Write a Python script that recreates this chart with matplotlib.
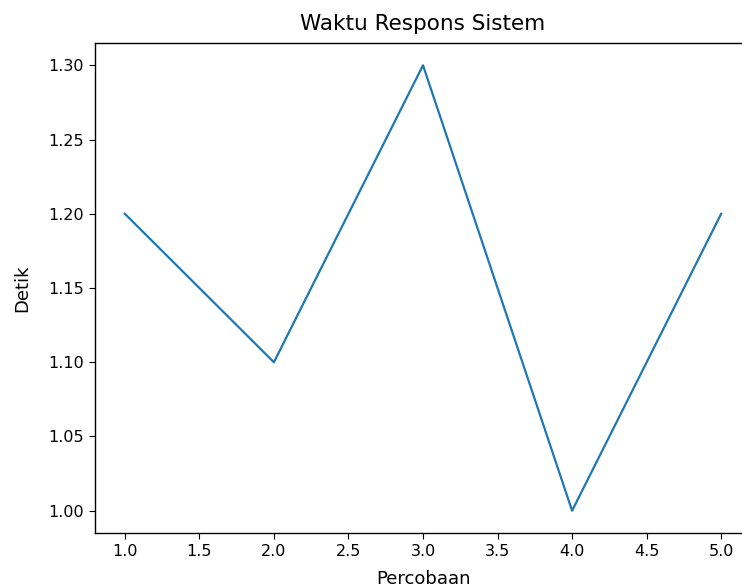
import matplotlib
matplotlib.use("Agg")
import matplotlib.pyplot as plt

trials = [1, 2, 3, 4, 5]
seconds = [1.2, 1.1, 1.3, 1.0, 1.2]

fig = plt.figure(figsize=(7.42, 5.87), dpi=100)
ax = fig.add_axes([95/742, 1-533/587, (751-95)/742, (533-43)/587])
ax.plot(trials, seconds, color="#1f77b4", linewidth=1.6)
ax.set_title("Waktu Respons Sistem", fontsize=15.5, pad=9)
ax.set_xlabel("Percobaan", fontsize=13, labelpad=8)
ax.set_ylabel("Detik", fontsize=13, labelpad=12)
ax.tick_params(labelsize=11.5, length=4.5)
for s in ax.spines.values():
    s.set_linewidth(1.0)
fig.savefig("out.png", dpi=100)
